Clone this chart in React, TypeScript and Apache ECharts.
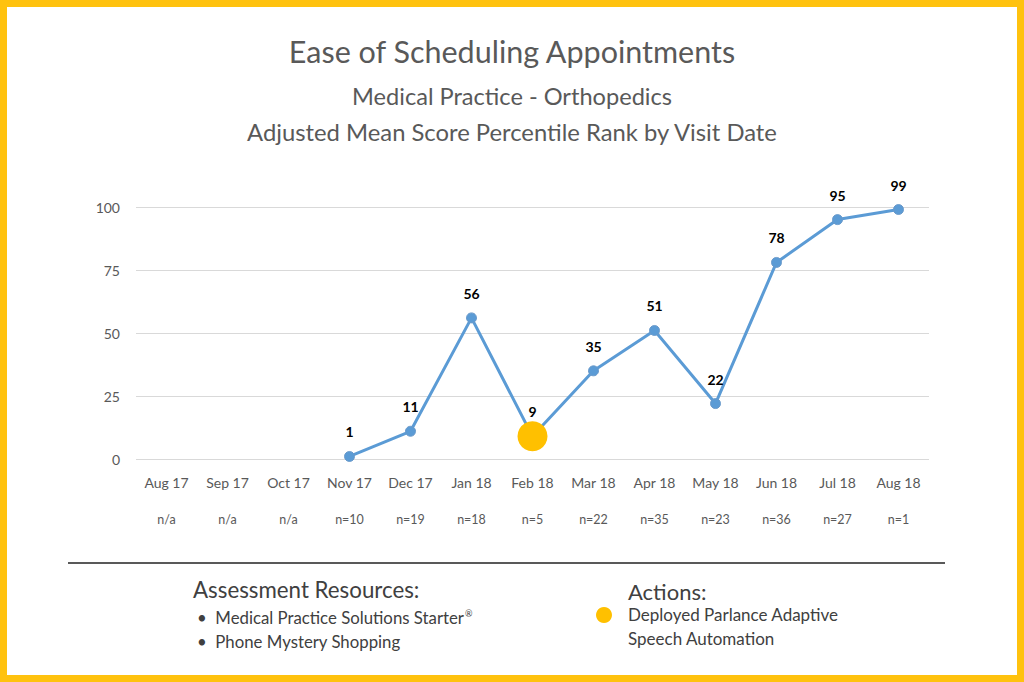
import React, { useEffect, useRef } from "react";
import * as echarts from "echarts";

const categories = ["Aug 17", "Sep 17", "Oct 17", "Nov 17", "Dec 17", "Jan 18", "Feb 18", "Mar 18", "Apr 18", "May 18", "Jun 18", "Jul 18", "Aug 18"];
const sampleSizes = ["n/a", "n/a", "n/a", "n=10", "n=19", "n=18", "n=5", "n=22", "n=35", "n=23", "n=36", "n=27", "n=1"];
const percentileRank: (number | null)[] = [null, null, null, 1, 11, 56, 9, 35, 51, 22, 78, 95, 99];
const actionMonths = ["Feb 18"];
const yTicks = [0, 25, 50, 75, 100];

const FONT = "Lato, 'Open Sans', sans-serif";

export default function App() {
  const ref = useRef<HTMLDivElement>(null);
  useEffect(() => {
    if (!ref.current) return;
    const chart = echarts.init(ref.current, null, { renderer: "svg" });
    const actionData = categories.map((c, i) => (actionMonths.includes(c) ? percentileRank[i] : null));
    chart.setOption({
      animation: false,
      backgroundColor: "#ffffff",
      textStyle: { fontFamily: FONT },
      title: [
        { text: "Ease of Scheduling Appointments", left: "center", top: 30, textStyle: { fontFamily: FONT, fontSize: 30.5, fontWeight: "normal", color: "#595959" } },
        { text: "Medical Practice - Orthopedics", left: "center", top: 79, textStyle: { fontFamily: FONT, fontSize: 23.6, fontWeight: "normal", color: "#595959" } },
        { text: "Adjusted Mean Score Percentile Rank by Visit Date", left: "center", top: 115, textStyle: { fontFamily: FONT, fontSize: 23.8, fontWeight: "normal", color: "#595959" } },
      ],
      grid: { left: 136, right: 95, top: 207, height: 252 },
      xAxis: {
        type: "category",
        data: categories,
        boundaryGap: true,
        axisLine: { show: false },
        axisTick: { show: false },
        axisLabel: {
          interval: 0,
          margin: 16,
          formatter: (v: string, i: number) => `{m|${v}}\n{n|${sampleSizes[i]}}`,
          rich: {
            m: { fontFamily: FONT, fontSize: 14, color: "#595959", lineHeight: 36, verticalAlign: "top" },
            n: { fontFamily: FONT, fontSize: 12.5, color: "#595959", lineHeight: 16 },
          },
        },
      },
      yAxis: {
        type: "value",
        min: 0,
        max: 100,
        interval: 25,
        axisLabel: { fontFamily: FONT, fontSize: 14, color: "#595959", margin: 16, formatter: (v: number) => (yTicks.includes(v) ? String(v) : "") },
        axisLine: { show: false },
        axisTick: { show: false },
        splitLine: { lineStyle: { color: "#D9D9D9", width: 1 } },
      },
      series: [
        {
          type: "line",
          data: percentileRank,
          connectNulls: false,
          symbol: "circle",
          symbolSize: 10,
          lineStyle: { color: "#5B9BD5", width: 3 },
          itemStyle: { color: "#5B9BD5", borderColor: "#6A9ACB", borderWidth: 1 },
          label: { show: true, position: "top", distance: 12, fontFamily: FONT, fontSize: 14, fontWeight: "bold", color: "#000000" },
          z: 2,
        },
        {
          type: "scatter",
          data: actionData,
          symbol: "circle",
          symbolSize: 30,
          itemStyle: { color: "#FFC000", opacity: 1 },
          label: { show: false },
          z: 3,
        },
      ],
      graphic: [
        { type: "rect", shape: { x: 3.5, y: 3.5, width: 1017, height: 675 }, style: { fill: "none", stroke: "#FFC20E", lineWidth: 7 }, z: 10 },
        { type: "line", shape: { x1: 68, y1: 563, x2: 945, y2: 563 }, style: { stroke: "#595959", lineWidth: 2 } },
        { type: "text", x: 193, y: 578, style: { text: "Assessment Resources:", fontFamily: FONT, fontSize: 22.3, fill: "#404040" } },
        { type: "text", x: 197, y: 609, style: { text: "•  Medical Practice Solutions Starter{r|®}", fontFamily: FONT, fontSize: 16.8, fill: "#404040", rich: { r: { fontFamily: FONT, fontSize: 9, fill: "#404040", verticalAlign: "top", padding: [0, 0, 8, 1] } } } },
        { type: "text", x: 197, y: 633, style: { text: "•  Phone Mystery Shopping", fontFamily: FONT, fontSize: 16.8, fill: "#404040" } },
        { type: "text", x: 628, y: 580, style: { text: "Actions:", fontFamily: FONT, fontSize: 22, fill: "#404040" } },
        { type: "circle", shape: { cx: 604, cy: 615, r: 8 }, style: { fill: "#FFC000" } },
        { type: "text", x: 628, y: 606, style: { text: "Deployed Parlance Adaptive", fontFamily: FONT, fontSize: 17, fill: "#404040" } },
        { type: "text", x: 628, y: 630, style: { text: "Speech Automation", fontFamily: FONT, fontSize: 17, fill: "#404040" } },
      ],
    });
    return () => chart.dispose();
  }, []);
  return <div ref={ref} style={{ position: "fixed", left: 0, top: 0, width: 1024, height: 682 }} />;
}
